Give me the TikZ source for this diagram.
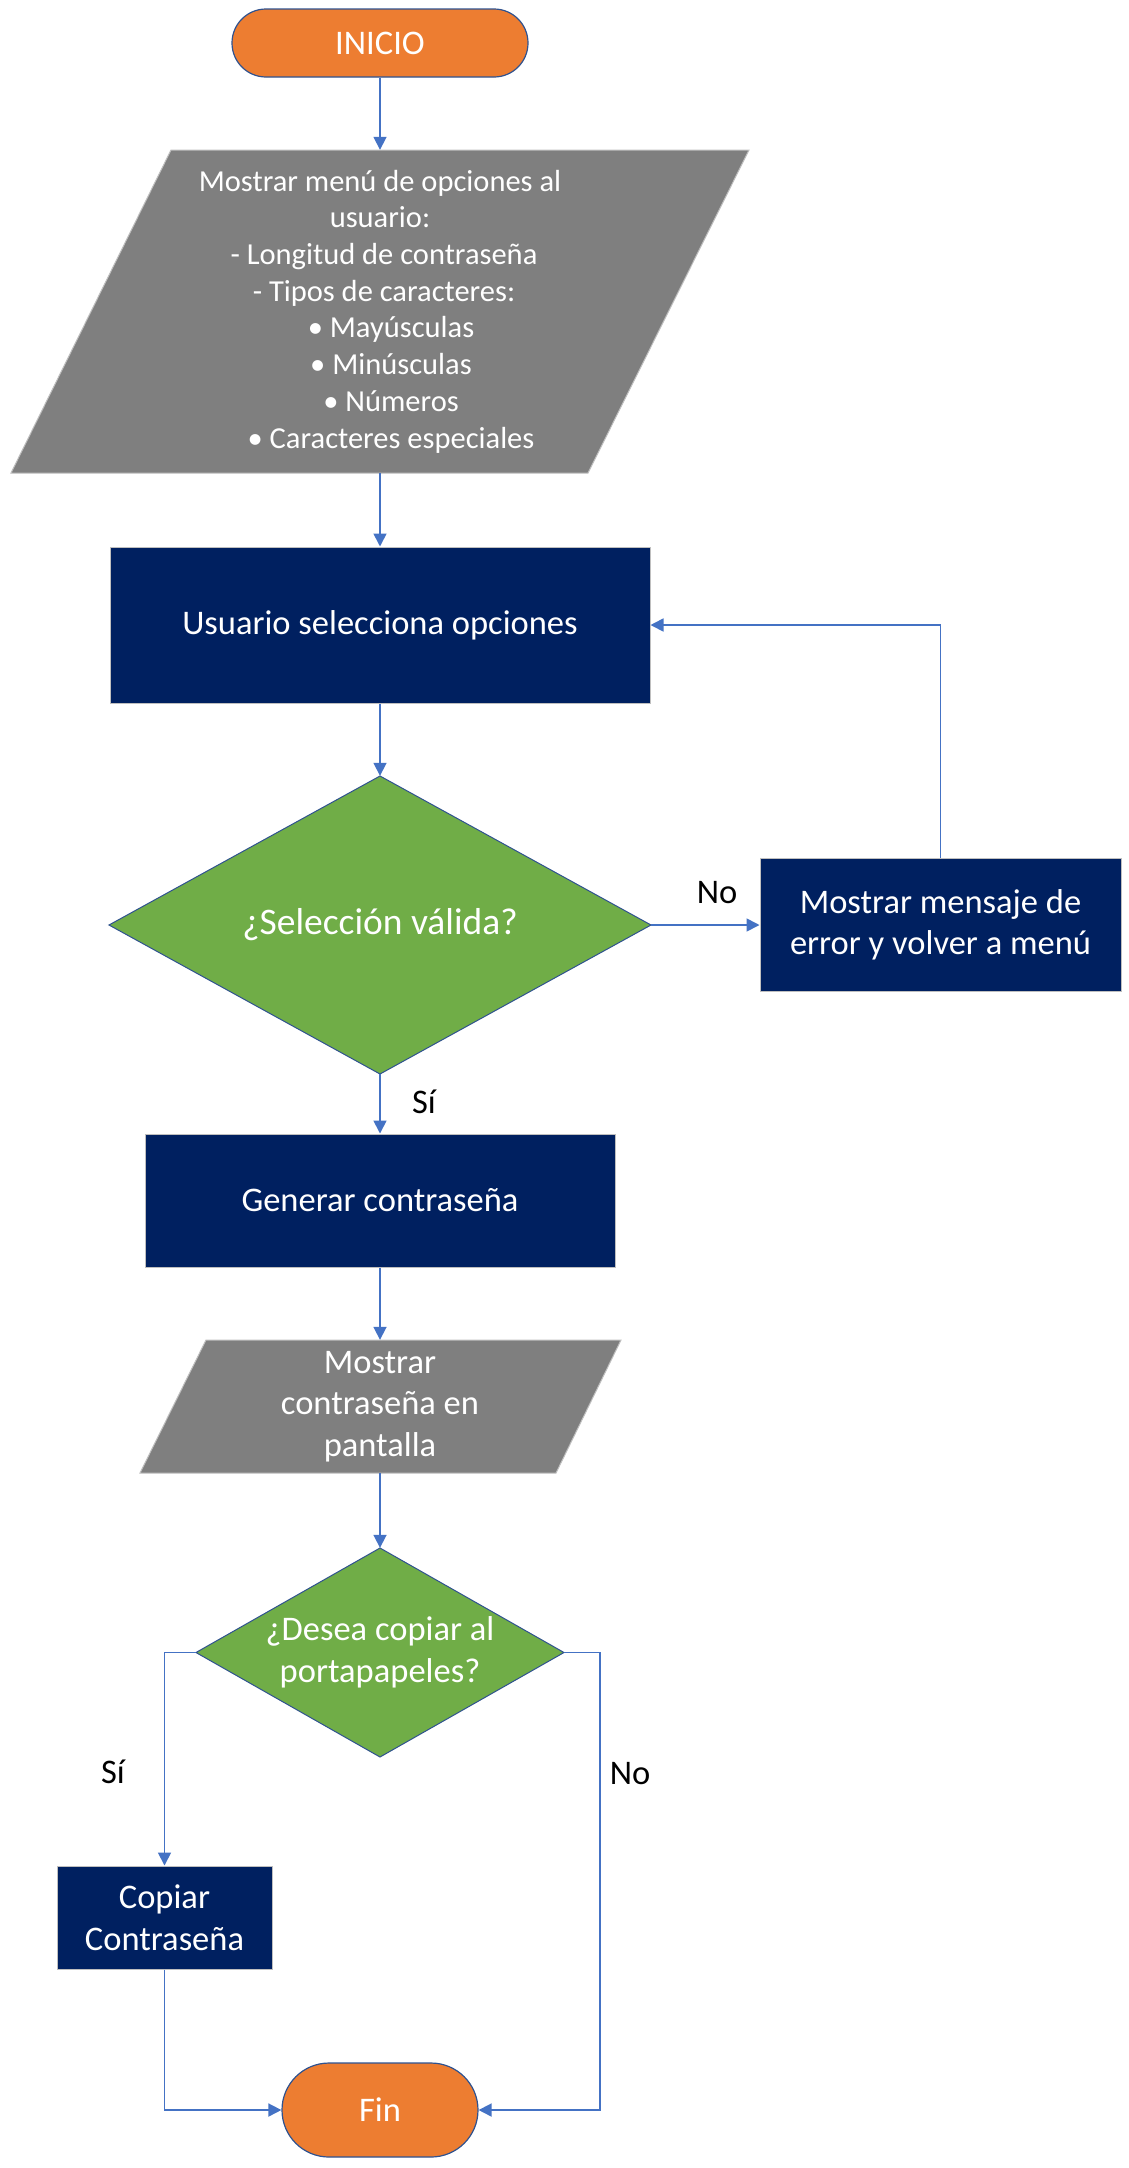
\documentclass[tikz,border=0pt]{standalone}
\usepackage{fontspec}
\setmainfont{Carlito}
\usetikzlibrary{arrows.meta,shapes.misc}
\definecolor{orng}{HTML}{ED7D31}
\definecolor{navy}{HTML}{002060}
\definecolor{gry}{HTML}{7F7F7F}
\definecolor{grn}{HTML}{70AD47}
\definecolor{lnk}{HTML}{4472C4}
\definecolor{edgeblue}{HTML}{2F528F}
\definecolor{edgegray}{HTML}{BFBFBF}
\begin{document}
\begin{tikzpicture}[x=1pt,y=-1pt,
  txt/.style={font=\fontsize{34.5}{41.5}\selectfont, text=white, align=center, inner sep=0pt},
  terminal/.style={txt, rounded rectangle, fill=orng, draw=edgeblue, line width=1.2pt},
  procbox/.style={txt, rectangle, fill=navy, draw=edgegray, line width=1pt},
  shapetext/.style={txt, rectangle},
  ioshape/.style={fill=gry, draw=edgegray, line width=1pt},
  decshape/.style={fill=grn, draw=edgeblue, line width=1pt},
  conn/.style={draw=lnk, line width=1.7pt, -{Triangle[length=13pt,width=13pt]}},
  lbl/.style={font=\fontsize{34.5}{41.5}\selectfont, text=black, inner sep=0pt},
]
\useasboundingbox[fill=white] (0,0) rectangle (1129,2168);

% start
\node[terminal, minimum width=296pt, minimum height=68pt] (inicio) at (380,43) {INICIO};

% input/output 1
\filldraw[ioshape] (171,150) -- (749,150) -- (588,473) -- (11,473) -- cycle;
\node[shapetext, minimum width=420pt, minimum height=323pt, font=\fontsize{30.5}{36.7}\selectfont] (menu) at (380,311.5)
 {Mostrar menú de opciones al\\
  usuario:\\
  \hspace*{8pt}- Longitud de contraseña\\
  \hspace*{8pt}- Tipos de caracteres:\\
  \hspace*{22pt}• Mayúsculas\\
  \hspace*{22pt}• Minúsculas\\
  \hspace*{22pt}• Números\\
  \hspace*{22pt}• Caracteres especiales};

% process
\node[procbox, minimum width=540pt, minimum height=156pt] (usuario) at (380,625) {Usuario selecciona opciones};

% decision 1
\filldraw[decshape] (380,776) -- (651,925) -- (380,1074) -- (109,925) -- cycle;
\node[shapetext, minimum width=542pt, minimum height=298pt, font=\fontsize{37.5}{45}\selectfont] (valida) at (380,925) {¿Selección válida?};

\node[procbox, minimum width=361pt, minimum height=133pt] (mensaje) at (940.5,925) {Mostrar mensaje de\\error y volver a menú};

\node[procbox, minimum width=470pt, minimum height=133pt] (generar) at (380,1200.5) {Generar contraseña};

% input/output 2
\filldraw[ioshape] (206,1340) -- (621,1340) -- (556,1473) -- (140,1473) -- cycle;
\node[shapetext, minimum width=400pt, minimum height=133pt] (mostrar) at (380,1406.5) {Mostrar\\contraseña en\\pantalla};

% decision 2
\filldraw[decshape] (380,1548) -- (564,1652.5) -- (380,1757) -- (196,1652.5) -- cycle;
\node[shapetext, minimum width=368pt, minimum height=209pt] (copiarq) at (380,1652.5) {¿Desea copiar al\\portapapeles?};

\node[procbox, minimum width=215pt, minimum height=103pt] (copiar) at (164.5,1917.5) {Copiar\\Contraseña};

\node[terminal, minimum width=196pt, minimum height=94pt] (fin) at (380,2110) {Fin};

% connectors
\draw[conn] (inicio.south) -- (menu.north);
\draw[conn] (menu.south) -- (usuario.north);
\draw[conn] (usuario.south) -- (valida.north);
\draw[conn] (valida.east) -- (mensaje.west);
\draw[conn] (mensaje.north) |- (usuario.east);
\draw[conn] (valida.south) -- (generar.north);
\draw[conn] (generar.south) -- (mostrar.north);
\draw[conn] (mostrar.south) -- (copiarq.north);
\draw[conn] (copiarq.west) -| (copiar.north);
\coordinate (nocorner) at (600,1652.5);
\draw[conn] (copiarq.east) -- (nocorner) |- (fin.east);
\draw[conn] (copiar.south) |- (fin.west);

% labels
\node[lbl] (lno1) at (717,893) {No};
\node[lbl] (lsi1) at (424,1102) {Sí};
\node[lbl] (lsi2) at (113,1772) {Sí};
\node[lbl] (lno2) at (630,1774) {No};
\end{tikzpicture}
\end{document}
